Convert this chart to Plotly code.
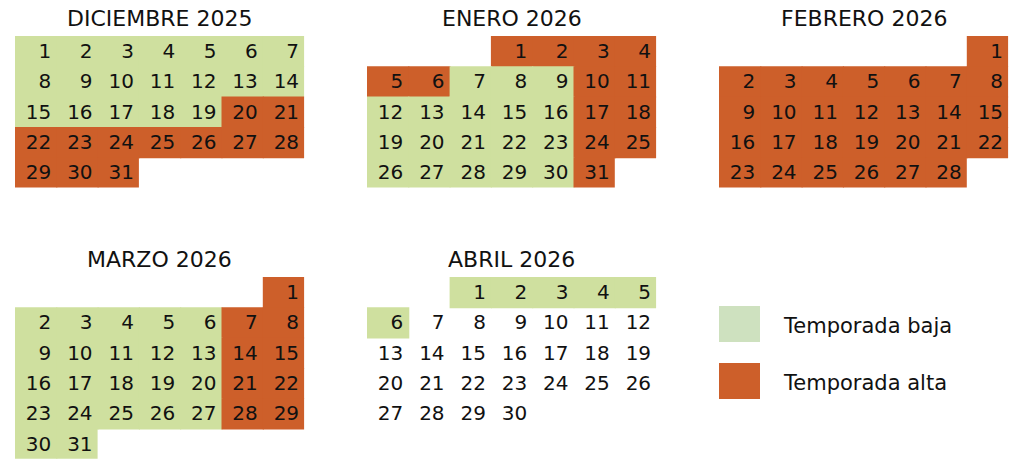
import calendar
import plotly.graph_objects as go

# ---------------- data ----------------
month_titles = ["DICIEMBRE 2025", "ENERO 2026", "FEBRERO 2026", "MARZO 2026", "ABRIL 2026"]
years = [2025, 2026, 2026, 2026, 2026]
months = [12, 1, 2, 3, 4]

# days of temporada alta / baja per month
alta_days = [
    list(range(20, 32)),
    [1, 2, 3, 4, 5, 6, 10, 11, 17, 18, 24, 25, 31],
    list(range(1, 29)),
    [1, 7, 8, 14, 15, 21, 22, 28, 29],
    [],
]
baja_days = [
    list(range(1, 20)),
    [7, 8, 9, 12, 13, 14, 15, 16, 19, 20, 21, 22, 23, 26, 27, 28, 29, 30],
    [],
    [2, 3, 4, 5, 6, 9, 10, 11, 12, 13, 16, 17, 18, 19, 20, 23, 24, 25, 26, 27, 30, 31],
    [1, 2, 3, 4, 5, 6],
]
legend_labels = ["Temporada baja", "Temporada alta"]

# ---------------- style / layout ----------------
W, H = 1023, 459
COL_W = 41.3
ROW_H = 30.3
origins = [(15, 36), (367, 36), (719, 36), (15, 277), (367, 277)]
title_y = [18, 18, 18, 259, 259]
GREEN = "#cfe09f"
ORANGE = "#cd5f2a"
LEG_GREEN = "#cee1bf"
TXT = "#111111"
FONT = "DejaVu Sans"

fig = go.Figure()
shapes = []
annotations = []

for i, (yr, mo) in enumerate(zip(years, months)):
    ox, oy = origins[i]
    first_wd, ndays = calendar.monthrange(yr, mo)  # Monday = 0
    xs, ys, ts = [], [], []
    for d in range(1, ndays + 1):
        idx = first_wd + d - 1
        c, r = idx % 7, idx // 7
        x0 = ox + c * COL_W
        y0 = oy + r * ROW_H
        color = None
        if d in alta_days[i]:
            color = ORANGE
        elif d in baja_days[i]:
            color = GREEN
        if color:
            last_col = c == 6 or d == ndays
            last_row = (idx + 7) // 7 * 7 - first_wd + 1 > ndays or r == (first_wd + ndays - 1) // 7
            shapes.append(dict(type="rect", xref="x", yref="y",
                               x0=x0, x1=x0 + COL_W + (0 if last_col else 1),
                               y0=y0, y1=y0 + ROW_H + (0 if last_row else 1),
                               fillcolor=color, line=dict(width=0), layer="below"))
        xs.append(x0 + COL_W - 5)
        ys.append(y0 + ROW_H / 2 + 2)
        ts.append(str(d))
    fig.add_trace(go.Scatter(x=xs, y=ys, text=ts, mode="text",
                             textposition="middle left",
                             textfont=dict(family=FONT, size=20, color=TXT),
                             hoverinfo="skip", showlegend=False))
    annotations.append(dict(x=ox + 3.5 * COL_W, y=title_y[i], xref="x", yref="y",
                            text=month_titles[i], showarrow=False,
                            font=dict(family=FONT, size=22, color=TXT),
                            xanchor="center", yanchor="middle"))

# legend
leg_colors = [LEG_GREEN, ORANGE]
leg_y = [306, 363]
for lab, col, ly in zip(legend_labels, leg_colors, leg_y):
    shapes.append(dict(type="rect", xref="x", yref="y", x0=719, x1=760, y0=ly, y1=ly + 36,
                       fillcolor=col, line=dict(width=0), layer="below"))
    annotations.append(dict(x=781, y=ly + 20, xref="x", yref="y", text=lab, showarrow=False,
                            font=dict(family=FONT, size=21, color=TXT),
                            xanchor="left", yanchor="middle"))

fig.update_layout(
    width=W, height=H,
    margin=dict(l=0, r=0, t=0, b=0),
    paper_bgcolor="white", plot_bgcolor="white",
    xaxis=dict(range=[0, W], visible=False, fixedrange=True),
    yaxis=dict(range=[H, 0], visible=False, fixedrange=True),
    shapes=shapes, annotations=annotations, showlegend=False,
)
fig.write_html("out.html", post_script="document.body.style.margin='0';document.body.style.overflow='hidden';",
               config={"displayModeBar": False})
